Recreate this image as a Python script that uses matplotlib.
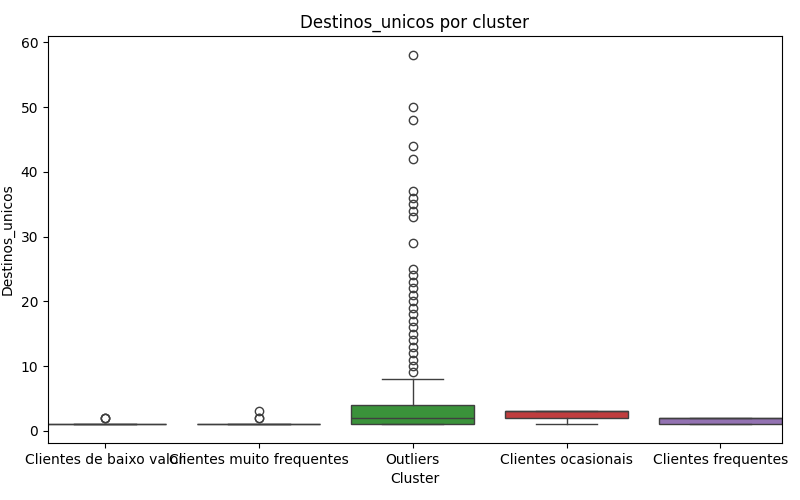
import matplotlib
matplotlib.use("Agg")
import matplotlib.pyplot as plt

clusters = ["Clientes de baixo valor", "Clientes muito frequentes", "Outliers",
            "Clientes ocasionais", "Clientes frequentes"]
q1 = [1, 1, 1, 2, 1]
med = [1, 1, 2, 3, 2]
q3 = [1, 1, 4, 3, 2]
whislo = [1, 1, 1, 1, 1]
whishi = [1, 1, 8, 3, 2]
fliers = [
    [2, 2, 2],
    [2, 2, 3],
    list(range(9, 26)) + [29, 33, 34, 35, 36, 37, 42, 44, 48, 50, 58],
    [],
    [],
]
colors = ["#3274a1", "#e1812c", "#3a923a", "#c03d3e", "#9372b2"]

stats = [dict(label=c, q1=a, med=m, q3=b, whislo=lo, whishi=hi, fliers=f)
         for c, a, m, b, lo, hi, f in zip(clusters, q1, med, q3, whislo, whishi, fliers)]

fig, ax = plt.subplots(figsize=(8, 5), dpi=100)
lc = "#3f3f3f"
bp = ax.bxp(stats, positions=range(len(clusters)), widths=0.8, patch_artist=True,
            boxprops=dict(edgecolor=lc, linewidth=1),
            medianprops=dict(color=lc, linewidth=1),
            whiskerprops=dict(color=lc, linewidth=1),
            capprops=dict(color=lc, linewidth=1),
            flierprops=dict(marker="o", markerfacecolor="none", markeredgecolor=lc, markersize=6))
for p, c in zip(bp["boxes"], colors):
    p.set_facecolor(c)
for cap in bp["caps"]:
    x = cap.get_xdata(); m = (x[0] + x[1]) / 2
    cap.set_xdata([m - 0.2, m + 0.2])
ax.set_xlim(-0.37, 4.4)
ax.set_ylim(-1.9, 61)
ax.set_xticks(range(len(clusters)))
ax.set_xticklabels(clusters)
ax.set_xlabel("Cluster")
ax.set_ylabel("Destinos_unicos")
ax.set_title("Destinos_unicos por cluster")
fig.subplots_adjust(left=0.06, right=0.9775, top=0.928, bottom=0.114)
fig.savefig("out.png")
